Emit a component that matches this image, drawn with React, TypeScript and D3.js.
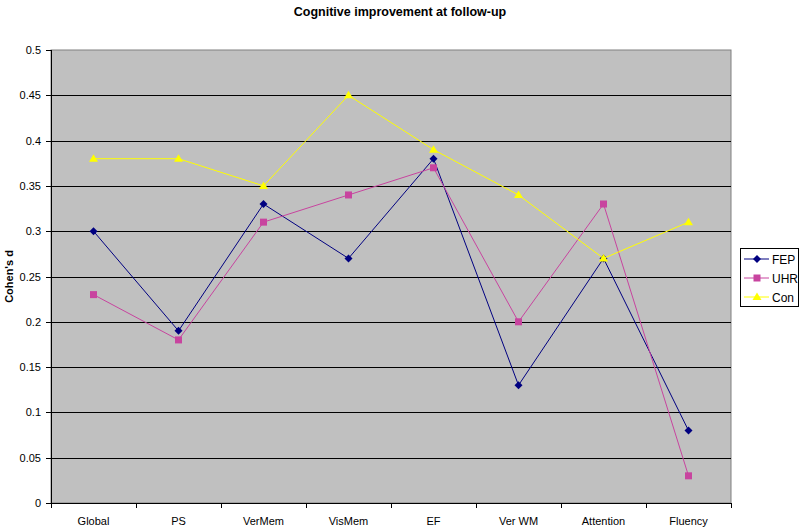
import * as d3 from 'd3'

const categories = ['Global', 'PS', 'VerMem', 'VisMem', 'EF', 'Ver WM', 'Attention', 'Fluency']
const fepValues = [0.30, 0.19, 0.33, 0.27, 0.38, 0.13, 0.27, 0.08]
const uhrValues = [0.23, 0.18, 0.31, 0.34, 0.37, 0.20, 0.33, 0.03]
const conValues = [0.38, 0.38, 0.35, 0.45, 0.39, 0.34, 0.27, 0.31]
const yTicks = [0, 0.05, 0.1, 0.15, 0.2, 0.25, 0.3, 0.35, 0.4, 0.45, 0.5]

const series = [
  { name: 'FEP', values: fepValues, color: '#000080', marker: 'diamond' },
  { name: 'UHR', values: uhrValues, color: '#c8449f', marker: 'square' },
  { name: 'Con', values: conValues, color: '#ffff00', marker: 'triangle' },
]

const width = 800
const height = 528
const plot = { left: 51, right: 731, top: 50, bottom: 503 }
const font = 'Liberation Sans, Arial, sans-serif'

function Marker({ type, x, y, color }: { type: string; x: number; y: number; color: string }) {
  if (type === 'diamond') {
    return <path d={`M${x},${y - 4}L${x + 4},${y}L${x},${y + 4}L${x - 4},${y}Z`} fill={color} />
  }
  if (type === 'square') {
    return <rect x={x - 3.5} y={y - 3.5} width={7} height={7} fill={color} />
  }
  return <path d={`M${x},${y - 4.5}L${x + 4.5},${y + 3}L${x - 4.5},${y + 3}Z`} fill={color} />
}

export default function App() {
  const x = d3.scaleBand().domain(categories).range([plot.left, plot.right])
  const y = d3.scaleLinear().domain([0, 0.5]).range([plot.bottom, plot.top])
  const cx = (c: string) => (x(c) as number) + x.bandwidth() / 2

  const line = d3.line<number>()
    .x((_, i) => cx(categories[i]))
    .y(d => y(d))

  const legend = { x: 740, y: 248, w: 58, h: 58 }

  return (
    <svg width={width} height={height} style={{ position: 'absolute', left: 0, top: 0, background: '#fff' }}>
      <text x={400} y={16} textAnchor="middle" fontFamily={font} fontWeight="bold" fontSize={12.5}>
        Cognitive improvement at follow-up
      </text>

      {/* plot area */}
      <rect x={plot.left} y={plot.top} width={plot.right - plot.left} height={plot.bottom - plot.top}
        fill="#c0c0c0" stroke="#808080" strokeWidth={1} />

      {/* gridlines */}
      {yTicks.filter(t => t > 0 && t < 0.5).map(t => (
        <line key={t} x1={plot.left} x2={plot.right} y1={Math.round(y(t)) + 0.5} y2={Math.round(y(t)) + 0.5}
          stroke="#000" strokeWidth={1} />
      ))}

      {/* y axis */}
      <line x1={plot.left + 0.5} x2={plot.left + 0.5} y1={plot.top} y2={plot.bottom} stroke="#000" />
      {yTicks.map(t => (
        <g key={t}>
          <line x1={plot.left - 5} x2={plot.left} y1={Math.round(y(t)) + 0.5} y2={Math.round(y(t)) + 0.5} stroke="#000" />
          <text x={plot.left - 10} y={y(t) + 4} textAnchor="end" fontFamily={font} fontSize={11} fill="#000">
            {t}
          </text>
        </g>
      ))}
      <text transform={`translate(13,${(plot.top + plot.bottom) / 2}) rotate(-90)`} textAnchor="middle"
        fontFamily={font} fontWeight="bold" fontSize={11}>
        Cohen's d
      </text>

      {/* x axis */}
      <line x1={plot.left} x2={plot.right} y1={plot.bottom + 0.5} y2={plot.bottom + 0.5} stroke="#000" />
      {categories.map(c => (
        <line key={c} x1={Math.round(x(c) as number) + 0.5} x2={Math.round(x(c) as number) + 0.5}
          y1={plot.bottom} y2={plot.bottom + 5} stroke="#000" />
      ))}
      <line x1={plot.right + 0.5} x2={plot.right + 0.5} y1={plot.bottom} y2={plot.bottom + 5} stroke="#000" />
      {categories.map(c => (
        <text key={c} x={cx(c)} y={plot.bottom + 22} textAnchor="middle" fontFamily={font} fontSize={11}>
          {c}
        </text>
      ))}

      {/* series */}
      {series.map(s => (
        <g key={s.name}>
          <path d={line(s.values) as string} fill="none" stroke={s.color} strokeWidth={1} />
          {s.values.map((v, i) => (
            <Marker key={i} type={s.marker} x={cx(categories[i])} y={y(v)} color={s.color} />
          ))}
        </g>
      ))}

      {/* legend */}
      <rect x={legend.x + 0.5} y={legend.y + 0.5} width={legend.w} height={legend.h} fill="#fff" stroke="#000" />
      {series.map((s, i) => {
        const ly = legend.y + 11 + i * 19
        return (
          <g key={s.name}>
            <line x1={legend.x + 4} x2={legend.x + 29} y1={ly} y2={ly} stroke={s.color} />
            <Marker type={s.marker} x={legend.x + 17} y={ly} color={s.color} />
            <text x={legend.x + 32} y={ly + 4.5} fontFamily={font} fontSize={12}>{s.name}</text>
          </g>
        )
      })}
    </svg>
  )
}
